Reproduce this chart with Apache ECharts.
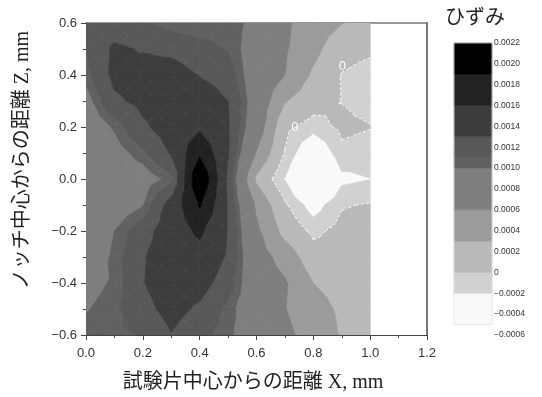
<!DOCTYPE html>
<html><head><meta charset="utf-8">
<script src="https://cdn.jsdelivr.net/npm/echarts/dist/echarts.min.js"></script>
<style>html,body{margin:0;padding:0;background:#fff}#c{width:542px;height:397px}</style>
</head><body><div id="c"></div>
<script>
// grid positions of the measured points
const xValues = [0.0, 0.1, 0.2, 0.3, 0.4, 0.5, 0.6, 0.7, 0.8, 0.9, 1.0];
const zValues = [0.6, 0.5, 0.4, 0.3, 0.2, 0.1, 0.0, -0.1, -0.2, -0.3, -0.4, -0.5, -0.6];
// strain values (x 1e-4), one row per z value, one column per x value
const strainE4 = [
  [11.3, 11.8, 11.2, 10.4, 10.2, 10.6, 9.5, 6.5, 4.6, 3.1, 2.0],
  [11.0, 13.4, 12.8, 12.4, 11.5, 10.9, 8.8, 6.3, 3.9, 1.0, 0.5],
  [10.5, 13.6, 14.0, 14.2, 12.9, 12.0, 8.3, 6.0, 2.5, -0.1, -1.0],
  [9.2, 12.6, 13.6, 14.5, 14.5, 13.0, 8.5, 3.2, 1.2, -0.05, -0.8],
  [8.5, 10.2, 12.6, 14.2, 15.5, 13.2, 8.0, 0.6, -1.0, 0.5, 0.1],
  [8.2, 9.2, 10.7, 13.2, 18.4, 13.2, 5.8, -0.1, -5.0, -0.5, -1.0],
  [8.0, 8.6, 9.0, 10.5, 22.0, 12.5, 2.5, -2.1, -8.0, -2.6, -2.05],
  [8.0, 8.8, 9.9, 14.0, 19.3, 12.8, 5.5, 0.4, -3.2, -0.2, 0.2],
  [8.2, 10.0, 12.0, 14.5, 16.5, 12.9, 6.6, 2.0, -0.6, 0.8, 1.0],
  [8.6, 10.3, 12.8, 14.5, 15.0, 12.7, 7.5, 4.8, 1.2, 1.5, 1.6],
  [9.4, 10.2, 12.9, 14.3, 14.0, 11.8, 8.0, 6.3, 3.0, 2.2, 2.0],
  [9.9, 10.6, 12.3, 13.8, 12.6, 10.6, 8.3, 6.1, 3.9, 2.6, 2.3],
  [10.5, 10.7, 11.1, 12.9, 11.5, 10.3, 8.8, 6.8, 4.6, 2.8, 2.4]
];
// contour levels and band colours (low -> high)
const levels = [-0.0005, -0.0002, 0, 0.0003, 0.0006, 0.0010, 0.0011, 0.0013, 0.0016, 0.0019, 0.0022];
const bandColors = ['#f9f9f9', '#d1d1d1', '#b9b9b9', '#9b9b9b', '#7e7e7e', '#616161', '#585858', '#3d3d3d', '#222222', '#000000'];
// legend tick labels
const legendTicks = [0.0022, 0.0020, 0.0018, 0.0016, 0.0014, 0.0012, 0.0010, 0.0008, 0.0006, 0.0004, 0.0002, 0, -0.0002, -0.0004, -0.0006];
// positions of the "0" contour labels
const zeroLabels = [[0.735, 0.198], [0.902, 0.432]];

const S = strainE4.map(r => r.map(v => v * 1e-4));

const cells = [];
for (let j = 0; j < zValues.length - 1; j++)
  for (let i = 0; i < xValues.length - 1; i++) cells.push([i, j]);

function clip(poly, t, keepAbove) {
  const out = [];
  for (let k = 0; k < poly.length; k++) {
    const a = poly[k], b = poly[(k + 1) % poly.length];
    const ina = keepAbove ? a[2] >= t : a[2] <= t;
    const inb = keepAbove ? b[2] >= t : b[2] <= t;
    if (ina) out.push(a);
    if (ina !== inb) {
      const f = (t - a[2]) / (b[2] - a[2]);
      out.push([a[0] + f * (b[0] - a[0]), a[1] + f * (b[1] - a[1]), t]);
    }
  }
  return out;
}
function cellTris(i, j) {
  const x0 = xValues[i], x1 = xValues[i + 1], z0 = zValues[j], z1 = zValues[j + 1];
  const A = [x0, z0, S[j][i]], B = [x1, z0, S[j][i + 1]], C = [x1, z1, S[j + 1][i + 1]], D = [x0, z1, S[j + 1][i]];
  const c = [(x0 + x1) / 2, (z0 + z1) / 2, (A[2] + B[2] + C[2] + D[2]) / 4];
  return [[A, B, c], [B, C, c], [C, D, c], [D, A, c]];
}

const chart = echarts.init(document.getElementById('c'), null, { renderer: 'canvas' });
const serifFont = '"Liberation Serif", "Noto Sans CJK JP", serif';
const sansFont = '"Liberation Sans", Arial, sans-serif';

const option = {
  animation: false,
  backgroundColor: '#fff',
  grid: [
    { left: 86, top: 23, width: 341, height: 312 },
    { left: 454, top: 43, width: 38, height: 292 }
  ],
  xAxis: [
    { gridIndex: 0, type: 'value', min: 0, max: 1.2, interval: 0.2,
      axisLine: { show: true, onZero: false, lineStyle: { color: '#444', width: 1 } },
      axisTick: { show: true, length: 5, lineStyle: { color: '#444' } },
      minorTick: { show: true, splitNumber: 2, length: 3, lineStyle: { color: '#444' } },
      splitLine: { show: false },
      axisLabel: { formatter: v => v.toFixed(1), margin: 12, fontSize: 13, color: '#333', fontFamily: sansFont, showMinLabel: true, showMaxLabel: true } },
    { gridIndex: 0, type: 'value', min: 0, max: 1.2, position: 'top',
      axisLine: { show: true, onZero: false, lineStyle: { color: '#777', width: 1.5 } },
      axisTick: { show: false }, axisLabel: { show: false }, splitLine: { show: false } },
    { gridIndex: 1, type: 'value', min: 0, max: 1, show: false }
  ],
  yAxis: [
    { gridIndex: 0, type: 'value', min: -0.6, max: 0.6, interval: 0.2,
      axisLine: { show: true, onZero: false, lineStyle: { color: '#444', width: 1 } },
      axisTick: { show: true, length: 5, lineStyle: { color: '#444' } },
      minorTick: { show: true, splitNumber: 2, length: 3, lineStyle: { color: '#444' } },
      splitLine: { show: false },
      axisLabel: { formatter: v => (v < -1e-9 ? '\u2212' : '') + Math.abs(v).toFixed(1), margin: 9, fontSize: 13, color: '#333', fontFamily: sansFont, showMinLabel: true, showMaxLabel: true } },
    { gridIndex: 0, type: 'value', min: -0.6, max: 0.6, position: 'right',
      axisLine: { show: true, onZero: false, lineStyle: { color: '#777', width: 2 } },
      axisTick: { show: false }, axisLabel: { show: false }, splitLine: { show: false } },
    { gridIndex: 1, type: 'value', min: -0.0006, max: 0.0022, interval: 0.0002, position: 'right',
      axisLine: { show: false }, axisTick: { show: false }, splitLine: { show: false },
      axisLabel: { margin: 2, fontSize: 8.5, color: '#333', fontFamily: sansFont, showMinLabel: true, showMaxLabel: true,
        formatter: v => { const n = Math.round(v * 1e4); if (n === 0) return '0'; return (n < 0 ? '\u2212' : '') + (Math.abs(n) / 1e4).toFixed(4); } } }
  ],
  graphic: [
    { type: 'text', x: 253, y: 383, style: { text: '試験片中心からの距離 X, mm', fontSize: 20, fontFamily: serifFont, fill: '#222', textAlign: 'center', textVerticalAlign: 'middle' } },
    { type: 'text', x: 23, y: 160, rotation: Math.PI / 2, style: { text: 'ノッチ中心からの距離 Z, mm', fontSize: 20, fontFamily: serifFont, fill: '#222', textAlign: 'center', textVerticalAlign: 'middle' } },
    { type: 'text', x: 475, y: 19, style: { text: 'ひずみ', fontSize: 20, fontFamily: serifFont, fill: '#222', textAlign: 'center', textVerticalAlign: 'middle' } }
  ],
  series: [
    { type: 'custom', xAxisIndex: 0, yAxisIndex: 0, clip: true, silent: true, z: 1,
      data: cells,
      renderItem: (params, api) => {
        const i = api.value(0), j = api.value(1);
        const children = [];
        for (const tri of cellTris(i, j)) {
          for (let k = 0; k < bandColors.length; k++) {
            let poly = tri;
            if (k > 0) poly = clip(poly, levels[k], true);
            if (poly.length < 3) continue;
            if (k < bandColors.length - 1) poly = clip(poly, levels[k + 1], false);
            if (poly.length < 3) continue;
            children.push({ type: 'polygon', shape: { points: poly.map(p => api.coord([p[0], p[1]])) },
              style: { fill: bandColors[k], stroke: bandColors[k], lineWidth: 0.8 } });
          }
        }
        return { type: 'group', children };
      } },
    { type: 'custom', xAxisIndex: 0, yAxisIndex: 0, clip: true, silent: true, z: 3,
      data: cells,
      renderItem: (params, api) => {
        const i = api.value(0), j = api.value(1);
        const children = [];
        for (const tri of cellTris(i, j)) {
          const pts = [];
          for (let k = 0; k < 3; k++) {
            const a = tri[k], b = tri[(k + 1) % 3];
            if ((a[2] < 0) !== (b[2] < 0)) {
              const f = (0 - a[2]) / (b[2] - a[2]);
              pts.push(api.coord([a[0] + f * (b[0] - a[0]), a[1] + f * (b[1] - a[1])]));
            }
          }
          if (pts.length === 2) children.push({ type: 'line', shape: { x1: pts[0][0], y1: pts[0][1], x2: pts[1][0], y2: pts[1][1] },
            style: { stroke: '#ffffff', lineWidth: 1, lineDash: [3, 2] } });
        }
        return { type: 'group', children };
      } },
    { type: 'custom', xAxisIndex: 0, yAxisIndex: 0, silent: true, z: 4,
      data: zeroLabels,
      renderItem: (params, api) => {
        const p = api.coord([api.value(0), api.value(1)]);
        return { type: 'text', x: p[0], y: p[1], style: { text: '0', fontSize: 13, fontFamily: sansFont, fill: '#fff', textAlign: 'center', textVerticalAlign: 'middle' } };
      } },
    { type: 'custom', xAxisIndex: 2, yAxisIndex: 2, silent: true, z: 2,
      data: bandColors.map((c, k) => [k]),
      renderItem: (params, api) => {
        const k = api.value(0);
        const p1 = api.coord([0, levels[k + 1]]), p2 = api.coord([1, levels[k]]);
        const rect = { type: 'rect', shape: { x: p1[0], y: p1[1], width: p2[0] - p1[0], height: p2[1] - p1[1] },
          style: { fill: bandColors[k], stroke: bandColors[k], lineWidth: 0.6 } };
        if (k !== 0) return rect;
        const top = api.coord([0, levels[levels.length - 1]]);
        return { type: 'group', children: [rect,
          { type: 'rect', z2: 10, shape: { x: top[0], y: top[1], width: p2[0] - top[0], height: p2[1] - top[1] },
            style: { fill: 'none', stroke: '#e2e2e2', lineWidth: 0.8 } }] };
      } }
  ]
};
chart.setOption(option);
</script>
</body></html>
